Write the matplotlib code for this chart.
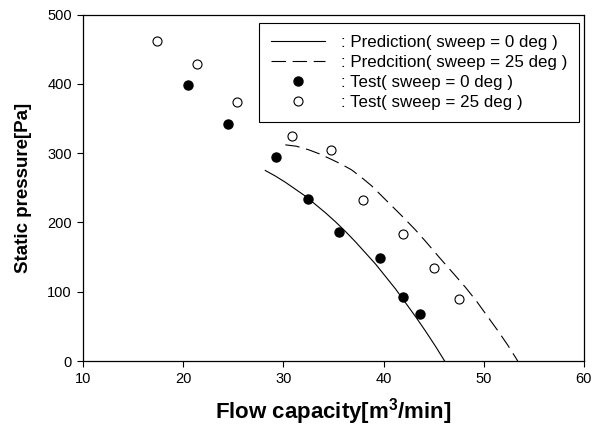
import matplotlib.pyplot as plt

plt.rcParams['font.family'] = ['Liberation Sans', 'DejaVu Sans']
plt.rcParams['mathtext.fontset'] = 'custom'
plt.rcParams['mathtext.rm'] = 'Liberation Sans'
plt.rcParams['mathtext.bf'] = 'Liberation Sans:bold'

# test data, sweep = 0 deg (filled) and 25 deg (open)
test0_q = [20.5, 24.5, 29.3, 32.5, 35.6, 39.6, 41.9, 43.6]
test0_p = [399, 342, 294, 234, 186, 148, 93, 68]
test25_q = [17.4, 21.4, 25.4, 30.9, 34.8, 38.0, 41.9, 45.0, 47.5]
test25_p = [462, 428, 374, 325, 305, 232, 183, 134, 89]

# prediction curves
pred0_q = [28.2, 29.2, 30.2, 31.2, 32.2, 33.2, 34.2, 35.2, 36.2, 37.2, 38.2, 39.2,
           40.2, 41.2, 42.2, 43.2, 44.2, 45.2, 46.1]
pred0_p = [275, 267, 258, 248, 238, 226, 214, 201, 187, 172, 156, 140,
           122, 104, 84, 64, 43, 21, 0]
pred25_q = [30.2, 31.3, 32.5, 33.6, 34.8, 35.8, 36.8, 37.8, 38.8, 40.4, 42.0, 43.2,
            44.3, 45.6, 47.0, 48.2, 49.3, 50.3, 51.3, 52.4, 53.4]
pred25_p = [312, 310, 305, 299, 291, 284, 276, 265, 253, 230, 207, 189,
            171, 149, 126, 106, 86, 66, 46, 23, 0]

fig = plt.figure(figsize=(5.97, 4.29), dpi=100)
ax = fig.add_axes([0.139, 0.1585, 0.839, 0.8075])

ax.plot(pred0_q, pred0_p, color='black', lw=0.8,
        label=': Prediction( sweep = 0 deg )')
ax.plot(pred25_q, pred25_p, color='black', lw=0.8, dashes=(13, 6),
        label=': Predcition( sweep = 25 deg )')
ax.plot(test0_q, test0_p, 'o', color='black', ms=6.5, ls='none',
        label=': Test( sweep = 0 deg )')
ax.plot(test25_q, test25_p, 'o', mfc='white', mec='black', mew=0.8, ms=6.5,
        ls='none', label=': Test( sweep = 25 deg )')

ax.set_xlim(10, 60)
ax.set_ylim(0, 500)
ax.set_xticks(range(10, 61, 10))
ax.set_yticks(range(0, 501, 100))
ax.tick_params(direction='out', length=4, width=0.8, labelsize=10.5, pad=4)
for s in ax.spines.values():
    s.set_linewidth(0.9)

ax.set_xlabel(r'Flow capacity[m$^\mathbf{3}$/min]', fontsize=16, fontweight='bold', labelpad=7)
ax.set_ylabel('Static pressure[Pa]', fontsize=13.5, fontweight='bold', labelpad=11)

leg = ax.legend(loc='upper right', bbox_to_anchor=(0.990, 0.976), borderaxespad=0,
                fontsize=12.2, fancybox=False, framealpha=1, edgecolor='black',
                handlelength=3.2, handletextpad=0.9, labelspacing=0.3,
                borderpad=0.7, numpoints=1)
leg.get_frame().set_linewidth(0.8)

fig.savefig('out.png', dpi=100)
